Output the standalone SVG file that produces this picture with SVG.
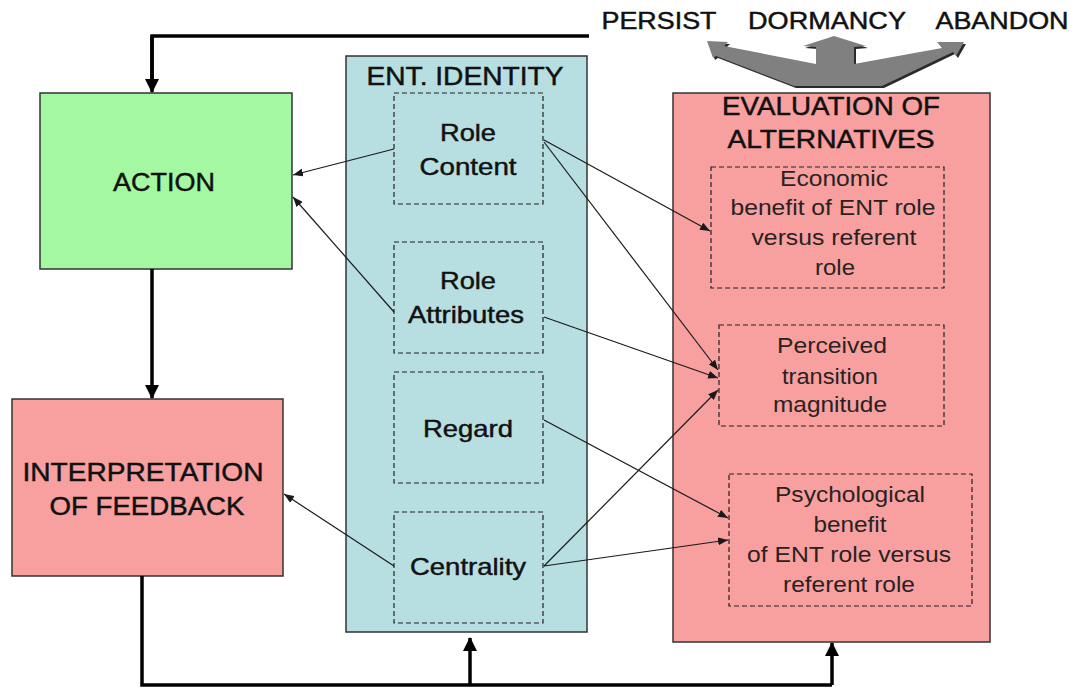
<svg xmlns="http://www.w3.org/2000/svg" width="1079" height="689" viewBox="0 0 1079 689">
  <defs>
    <marker id="thin" viewBox="0 0 10 8" refX="10" refY="4" markerWidth="10" markerHeight="8" markerUnits="userSpaceOnUse" orient="auto">
      <path d="M0,0 L10,4 L0,8 Z" fill="#1a1a1a"/>
    </marker>
    <marker id="thick" viewBox="0 0 14 14" refX="13" refY="7" markerWidth="14" markerHeight="14" markerUnits="userSpaceOnUse" orient="auto">
      <path d="M0,0 L14,7 L0,14 Z" fill="#000"/>
    </marker>
    <style>
      .lbl { font-family: "Liberation Sans", Arial, sans-serif; fill: #111; stroke: #111; stroke-width: 0.45; text-anchor: middle; }
      .sub { font-family: "Liberation Sans", Arial, sans-serif; fill: #2a2222; font-size: 22px; text-anchor: middle; }
      .box { stroke: #333; stroke-width: 1.5; }
      .dash { fill: none; stroke: #222; stroke-width: 1.2; stroke-dasharray: 5 3; }
      .thin { fill: none; stroke: #1a1a1a; stroke-width: 1.2; marker-end: url(#thin); }
      .fat { fill: none; stroke: #000; stroke-width: 3.5; }
    </style>
  </defs>

  <rect width="1079" height="689" fill="#fff"/>

  <!-- outcome labels and the three-way arrow above the evaluation -->
  <g id="outcomes">
    <text class="lbl" x="659" y="29" font-size="23" textLength="115" lengthAdjust="spacingAndGlyphs">PERSIST</text>
    <text class="lbl" x="827" y="29" font-size="23" textLength="158" lengthAdjust="spacingAndGlyphs">DORMANCY</text>
    <text class="lbl" x="1002" y="29" font-size="23" textLength="133" lengthAdjust="spacingAndGlyphs">ABANDON</text>
    <path transform="translate(2,2)" fill="#2a2a2a" d="M834,36 L866,46 L854,47 L854,64 L942,48 L937,42 L964,42 L956,56 L953,52 L882,86 L794,86 L716,56 L713,58 L707,41 L728,42 L724,46 L816,64 L816,47 L803,46 Z"/>
    <path fill="#808080" d="M834,36 L866,46 L854,47 L854,64 L942,48 L937,42 L964,42 L956,56 L953,52 L882,86 L794,86 L716,56 L713,58 L707,41 L728,42 L724,46 L816,64 L816,47 L803,46 Z"/>
  </g>

  <g id="action">
    <rect class="box" x="40" y="93" width="252" height="176" fill="#a4f8a2"/>
    <text class="lbl" x="164" y="191" font-size="25" textLength="102" lengthAdjust="spacingAndGlyphs">ACTION</text>
  </g>

  <g id="interpretation">
    <rect class="box" x="12" y="399" width="271" height="177" fill="#f8a0a0"/>
    <text class="lbl" x="143" y="481" font-size="25" textLength="241" lengthAdjust="spacingAndGlyphs">INTERPRETATION</text>
    <text class="lbl" x="147" y="515" font-size="25" textLength="195" lengthAdjust="spacingAndGlyphs">OF FEEDBACK</text>
  </g>

  <g id="ent-identity">
    <rect class="box" x="346" y="56" width="241" height="576" fill="#b7dee1"/>
    <text class="lbl" x="465" y="85" font-size="25" textLength="197" lengthAdjust="spacingAndGlyphs">ENT. IDENTITY</text>
  </g>

  <g id="role-content">
    <rect class="dash" x="394" y="93" width="149" height="111"/>
    <text class="lbl" x="468" y="141" font-size="24" textLength="56" lengthAdjust="spacingAndGlyphs">Role</text>
    <text class="lbl" x="468" y="175" font-size="24" textLength="97" lengthAdjust="spacingAndGlyphs">Content</text>
  </g>

  <g id="role-attributes">
    <rect class="dash" x="394" y="242" width="149" height="111"/>
    <text class="lbl" x="468" y="289" font-size="24" textLength="56" lengthAdjust="spacingAndGlyphs">Role</text>
    <text class="lbl" x="466" y="323" font-size="24" textLength="116" lengthAdjust="spacingAndGlyphs">Attributes</text>
  </g>

  <g id="regard">
    <rect class="dash" x="394" y="372" width="149" height="111"/>
    <text class="lbl" x="468" y="437" font-size="24" textLength="90" lengthAdjust="spacingAndGlyphs">Regard</text>
  </g>

  <g id="centrality">
    <rect class="dash" x="394" y="512" width="149" height="111"/>
    <text class="lbl" x="468" y="575" font-size="24" textLength="116" lengthAdjust="spacingAndGlyphs">Centrality</text>
  </g>

  <g id="evaluation">
    <rect class="box" x="673" y="93" width="317" height="549" fill="#f8a0a0"/>
    <text class="lbl" x="831" y="115" font-size="25" textLength="218" lengthAdjust="spacingAndGlyphs">EVALUATION OF</text>
    <text class="lbl" x="831" y="148" font-size="25" textLength="207" lengthAdjust="spacingAndGlyphs">ALTERNATIVES</text>
  </g>

  <g id="economic-benefit">
    <rect class="dash" x="711" y="167" width="233" height="121"/>
    <text class="sub" x="834" y="186" textLength="108" lengthAdjust="spacingAndGlyphs">Economic</text>
    <text class="sub" x="833" y="215" textLength="205" lengthAdjust="spacingAndGlyphs">benefit of ENT role</text>
    <text class="sub" x="834" y="245" textLength="165" lengthAdjust="spacingAndGlyphs">versus referent</text>
    <text class="sub" x="835" y="275" textLength="40" lengthAdjust="spacingAndGlyphs">role</text>
  </g>

  <g id="transition-magnitude">
    <rect class="dash" x="719" y="325" width="225" height="101"/>
    <text class="sub" x="832" y="353" textLength="110" lengthAdjust="spacingAndGlyphs">Perceived</text>
    <text class="sub" x="830" y="384" textLength="96" lengthAdjust="spacingAndGlyphs">transition</text>
    <text class="sub" x="830" y="412" textLength="114" lengthAdjust="spacingAndGlyphs">magnitude</text>
  </g>

  <g id="psychological-benefit">
    <rect class="dash" x="729" y="474" width="243" height="132"/>
    <text class="sub" x="850" y="502" textLength="150" lengthAdjust="spacingAndGlyphs">Psychological</text>
    <text class="sub" x="850" y="532" textLength="73" lengthAdjust="spacingAndGlyphs">benefit</text>
    <text class="sub" x="849" y="562" textLength="204" lengthAdjust="spacingAndGlyphs">of ENT role versus</text>
    <text class="sub" x="849" y="592" textLength="132" lengthAdjust="spacingAndGlyphs">referent role</text>
  </g>

  <g id="connectors">
    <!-- feedback loop -->
    <path class="fat" d="M589,36 L152,36 L152,80" />
    <path class="fat" d="M152,36 L152,92" marker-end="url(#thick)"/>
    <path class="fat" d="M152,269 L152,398" marker-end="url(#thick)"/>
    <path class="fat" d="M142,576 L142,685 L832,685"/>
    <path class="fat" d="M470,685 L470,638" marker-end="url(#thick)"/>
    <path class="fat" d="M832,685 L832,643" marker-end="url(#thick)"/>

    <!-- identity to action / interpretation -->
    <path class="thin" d="M394,149 L293,175"/>
    <path class="thin" d="M394,312 L293,197"/>
    <path class="thin" d="M394,566 L284,494"/>

    <!-- identity to evaluation -->
    <path class="thin" d="M544,140 L710,231"/>
    <path class="thin" d="M544,142 L718,370"/>
    <path class="thin" d="M544,317 L718,378"/>
    <path class="thin" d="M544,420 L728,518"/>
    <path class="thin" d="M544,566 L718,390"/>
    <path class="thin" d="M544,566 L728,540"/>
  </g>
</svg>
